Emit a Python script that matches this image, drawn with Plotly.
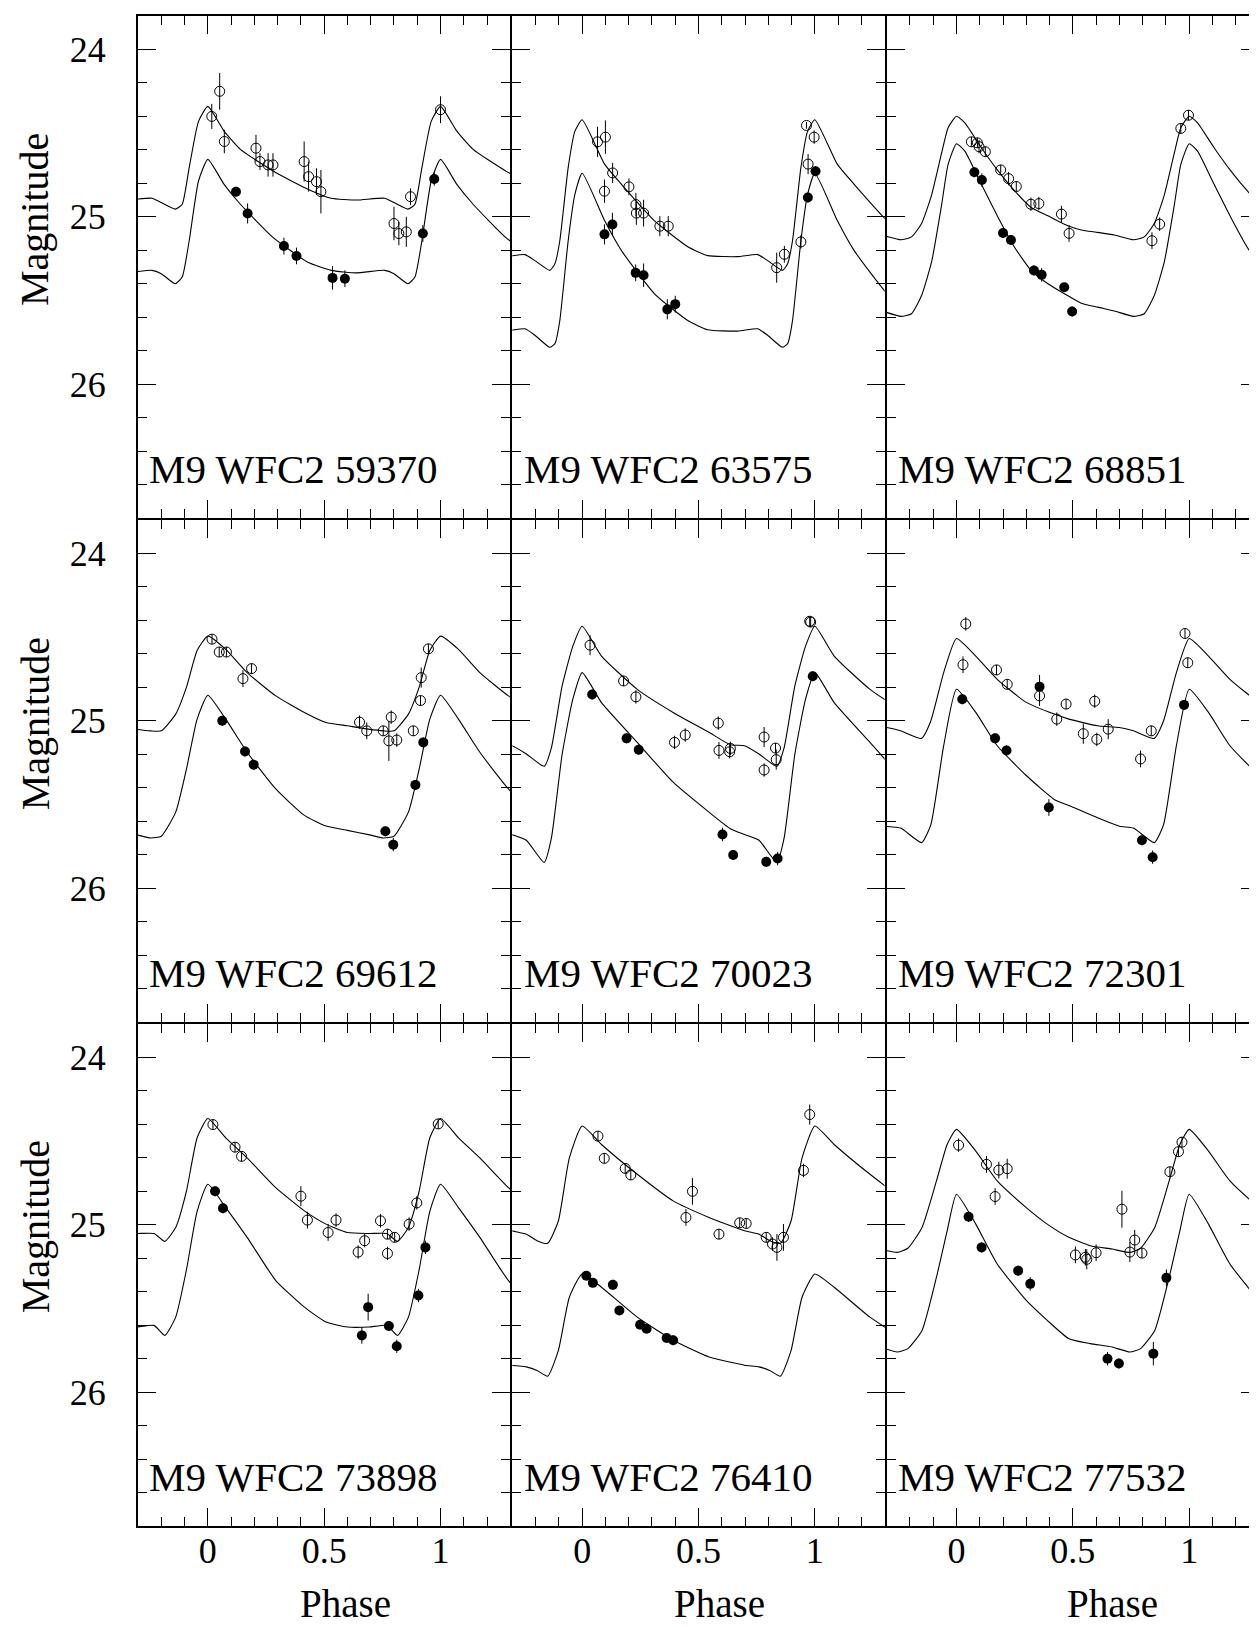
import plotly.graph_objects as go

FONT = "Liberation Serif"

names = ["M9 WFC2 59370", "M9 WFC2 63575", "M9 WFC2 68851",
         "M9 WFC2 69612", "M9 WFC2 70023", "M9 WFC2 72301",
         "M9 WFC2 73898", "M9 WFC2 76410", "M9 WFC2 77532"]

x_tickvals = [0, 0.5, 1]
x_ticktext = ["0", "0.5", "1"]
y_tickvals = [24, 25, 26]
y_ticktext = ["24", "25", "26"]

# ---------------- panel 1: 59370 ----------------
p1_open_ph = [0.017, 0.051, 0.071, 0.207, 0.224, 0.259, 0.28, 0.414, 0.433, 0.467, 0.486, 0.80, 0.821, 0.853, 0.871, 1.0]
p1_open_mag = [24.40, 24.25, 24.55, 24.59, 24.67, 24.69, 24.69, 24.67, 24.76, 24.79, 24.85, 25.04, 25.10, 25.09, 24.88, 24.36]
p1_open_err = [0.075, 0.11, 0.07, 0.08, 0.05, 0.07, 0.07, 0.12, 0.09, 0.08, 0.13, 0.10, 0.07, 0.09, 0.05, 0.08]
p1_fill_ph = [0.121, 0.171, 0.327, 0.381, 0.536, 0.589, 0.924, 0.973]
p1_fill_mag = [24.85, 24.98, 25.175, 25.234, 25.365, 25.37, 25.10, 24.774]
p1_fill_err = [0.03, 0.06, 0.05, 0.05, 0.07, 0.05, 0.05, 0.04]
p1_curve_ph = [0.0, 0.07, 0.14, 0.28, 0.43, 0.53, 0.64, 0.76, 0.80, 0.86, 0.89, 0.92, 0.96, 1.0]
p1_upper = [24.34, 24.488, 24.597, 24.726, 24.835, 24.889, 24.90, 24.889, 24.915, 24.954, 24.925, 24.706, 24.43, 24.34]
p1_lower = [24.657, 24.806, 24.925, 25.123, 25.272, 25.32, 25.335, 25.32, 25.34, 25.40, 25.36, 25.143, 24.786, 24.657]

# ---------------- panel 2: 63575 ----------------
p2_open_ph = [0.066, 0.10, 0.096, 0.131, 0.201, 0.231, 0.233, 0.264, 0.334, 0.37, 0.836, 0.869, 0.94, 0.964, 0.971, 0.997]
p2_open_mag = [24.552, 24.524, 24.847, 24.738, 24.821, 24.927, 24.978, 24.978, 25.056, 25.056, 25.304, 25.224, 25.15, 24.454, 24.685, 24.524]
p2_open_err = [0.09, 0.10, 0.07, 0.06, 0.05, 0.07, 0.07, 0.08, 0.06, 0.06, 0.09, 0.05, 0.04, 0.02, 0.06, 0.04]
p2_fill_ph = [0.096, 0.13, 0.23, 0.264, 0.366, 0.40, 0.97, 1.003]
p2_fill_mag = [25.105, 25.046, 25.335, 25.349, 25.553, 25.522, 24.885, 24.728]
p2_fill_err = [0.06, 0.07, 0.05, 0.07, 0.06, 0.05, 0.03, 0.03]
p2_curve_ph = [0.0, 0.097, 0.169, 0.311, 0.454, 0.54, 0.669, 0.754, 0.797, 0.861, 0.883, 0.904, 0.94, 0.969, 1.0]
p2_upper = [24.42, 24.687, 24.806, 25.024, 25.179, 25.232, 25.238, 25.226, 25.262, 25.32, 25.28, 25.143, 24.706, 24.488, 24.42]
p2_lower = [24.74, 25.024, 25.202, 25.46, 25.62, 25.675, 25.683, 25.669, 25.708, 25.78, 25.758, 25.62, 25.143, 24.865, 24.74]

# ---------------- panel 3: 68851 ----------------
p3_open_ph = [0.064, 0.09, 0.097, 0.124, 0.19, 0.224, 0.257, 0.32, 0.354, 0.451, 0.484, 0.84, 0.873, 0.964, 0.997]
p3_open_mag = [24.552, 24.558, 24.581, 24.611, 24.72, 24.772, 24.819, 24.925, 24.921, 24.984, 25.099, 25.143, 25.044, 24.472, 24.393]
p3_open_err = [0.03, 0.03, 0.04, 0.03, 0.03, 0.04, 0.03, 0.04, 0.04, 0.05, 0.05, 0.05, 0.04, 0.03, 0.03]
p3_fill_ph = [0.077, 0.109, 0.20, 0.234, 0.333, 0.366, 0.463, 0.497]
p3_fill_mag = [24.734, 24.78, 25.097, 25.139, 25.321, 25.347, 25.421, 25.566]
p3_fill_err = [0.03, 0.04, 0.03, 0.03, 0.03, 0.04, 0.02, 0.03]
p3_curve_ph = [0.0, 0.036, 0.107, 0.179, 0.25, 0.321, 0.393, 0.464, 0.536, 0.607, 0.679, 0.761, 0.807, 0.85, 0.893, 0.936, 0.964, 1.0]
p3_upper = [24.399, 24.438, 24.587, 24.726, 24.845, 24.944, 24.994, 25.044, 25.079, 25.093, 25.109, 25.137, 25.12, 25.04, 24.87, 24.62, 24.468, 24.399]
p3_lower = [24.563, 24.607, 24.806, 25.004, 25.183, 25.321, 25.40, 25.46, 25.516, 25.54, 25.563, 25.595, 25.579, 25.47, 25.27, 24.93, 24.687, 24.563]

# ---------------- panel 4: 69612 ----------------
p4_open_ph = [0.018, 0.049, 0.08, 0.151, 0.188, 0.652, 0.683, 0.754, 0.778, 0.788, 0.812, 0.883, 0.914, 0.917, 0.948]
p4_open_mag = [24.512, 24.589, 24.589, 24.748, 24.688, 25.008, 25.06, 25.06, 25.12, 24.978, 25.115, 25.06, 24.879, 24.742, 24.57]
p4_open_err = [0.03, 0.03, 0.03, 0.05, 0.03, 0.04, 0.05, 0.03, 0.12, 0.04, 0.04, 0.03, 0.03, 0.06, 0.03]
p4_fill_ph = [0.062, 0.16, 0.197, 0.763, 0.797, 0.892, 0.926]
p4_fill_mag = [25.0, 25.183, 25.262, 25.66, 25.74, 25.383, 25.129]
p4_fill_err = [0.03, 0.03, 0.03, 0.03, 0.04, 0.03, 0.03]
p4_curve_ph = [0.0, 0.077, 0.169, 0.292, 0.415, 0.508, 0.6, 0.69, 0.754, 0.80, 0.862, 0.908, 0.954, 1.0]
p4_upper = [24.494, 24.573, 24.712, 24.851, 24.95, 25.01, 25.03, 25.05, 25.06, 25.06, 24.96, 24.80, 24.58, 24.494]
p4_lower = [24.847, 24.99, 25.188, 25.407, 25.565, 25.629, 25.655, 25.68, 25.70, 25.69, 25.546, 25.29, 24.99, 24.847]

# ---------------- panel 5: 70023 ----------------
p5_open_ph = [0.034, 0.178, 0.231, 0.397, 0.443, 0.585, 0.588, 0.634, 0.637, 0.782, 0.782, 0.831, 0.834, 0.978, 0.982]
p5_open_mag = [24.548, 24.762, 24.857, 25.129, 25.085, 25.014, 25.177, 25.185, 25.165, 25.097, 25.294, 25.163, 25.232, 24.405, 24.41]
p5_open_err = [0.06, 0.03, 0.04, 0.04, 0.04, 0.04, 0.05, 0.04, 0.04, 0.06, 0.04, 0.03, 0.06, 0.03, 0.03]
p5_fill_ph = [0.043, 0.191, 0.243, 0.603, 0.649, 0.791, 0.84, 0.991]
p5_fill_mag = [24.843, 25.105, 25.173, 25.679, 25.802, 25.843, 25.823, 24.734]
p5_fill_err = [0.03, 0.03, 0.03, 0.04, 0.03, 0.03, 0.04, 0.03]
p5_curve_ph = [0.0, 0.083, 0.237, 0.391, 0.545, 0.637, 0.698, 0.76, 0.837, 0.868, 0.914, 0.96, 1.0]
p5_upper = [24.435, 24.613, 24.812, 24.95, 25.069, 25.143, 25.149, 25.198, 25.272, 25.16, 24.792, 24.554, 24.435]
p5_lower = [24.712, 24.891, 25.129, 25.367, 25.546, 25.645, 25.68, 25.714, 25.847, 25.70, 25.20, 24.871, 24.712]

# ---------------- panel 6: 72301 ----------------
p6_open_ph = [0.04, 0.028, 0.172, 0.218, 0.357, 0.431, 0.471, 0.545, 0.594, 0.603, 0.652, 0.791, 0.837, 0.982, 0.994]
p6_open_mag = [24.421, 24.665, 24.696, 24.782, 24.851, 24.99, 24.90, 25.077, 24.883, 25.111, 25.05, 25.228, 25.06, 24.478, 24.653]
p6_open_err = [0.04, 0.05, 0.03, 0.03, 0.06, 0.04, 0.03, 0.06, 0.04, 0.04, 0.06, 0.05, 0.03, 0.03, 0.03]
p6_fill_ph = [0.025, 0.166, 0.215, 0.357, 0.397, 0.797, 0.843, 0.978]
p6_fill_mag = [24.871, 25.105, 25.177, 24.796, 25.518, 25.714, 25.815, 24.905]
p6_fill_err = [0.03, 0.03, 0.03, 0.07, 0.05, 0.03, 0.04, 0.03]
p6_curve_ph = [0.0, 0.083, 0.175, 0.3, 0.42, 0.483, 0.606, 0.7, 0.76, 0.85, 0.89, 0.945, 1.0]
p6_upper = [24.508, 24.613, 24.752, 24.89, 24.96, 24.99, 25.03, 25.04, 25.06, 25.105, 25.0, 24.712, 24.508]
p6_lower = [24.812, 24.95, 25.149, 25.327, 25.47, 25.506, 25.58, 25.63, 25.641, 25.728, 25.62, 25.149, 24.812]

# ---------------- panel 7: 73898 ----------------
p7_open_ph = [0.022, 0.117, 0.145, 0.40, 0.428, 0.517, 0.551, 0.646, 0.674, 0.742, 0.772, 0.772, 0.803, 0.865, 0.898, 0.99]
p7_open_mag = [24.401, 24.536, 24.591, 24.829, 24.972, 25.046, 24.972, 25.163, 25.095, 24.976, 25.056, 25.171, 25.075, 24.996, 24.869, 24.397]
p7_open_err = [0.03, 0.03, 0.03, 0.06, 0.05, 0.05, 0.04, 0.04, 0.04, 0.04, 0.03, 0.04, 0.03, 0.04, 0.04, 0.03]
p7_fill_ph = [0.031, 0.065, 0.662, 0.689, 0.778, 0.812, 0.905, 0.935]
p7_fill_mag = [24.80, 24.901, 25.661, 25.492, 25.605, 25.726, 25.423, 25.135]
p7_fill_err = [0.03, 0.03, 0.05, 0.08, 0.03, 0.04, 0.04, 0.04]
p7_curve_ph = [0.0, 0.077, 0.169, 0.292, 0.415, 0.508, 0.6, 0.692, 0.769, 0.815, 0.862, 0.908, 0.954, 1.0]
p7_upper = [24.365, 24.48, 24.60, 24.778, 24.917, 24.996, 25.046, 25.052, 25.052, 25.099, 25.016, 24.80, 24.48, 24.365]
p7_lower = [24.758, 24.897, 25.075, 25.333, 25.492, 25.581, 25.611, 25.611, 25.601, 25.661, 25.552, 25.27, 24.92, 24.758]

# ---------------- panel 8: 76410 ----------------
p8_open_ph = [0.068, 0.095, 0.185, 0.209, 0.446, 0.474, 0.588, 0.677, 0.705, 0.791, 0.818, 0.837, 0.865, 0.951, 0.978]
p8_open_mag = [24.47, 24.603, 24.663, 24.702, 24.956, 24.80, 25.056, 24.988, 24.992, 25.075, 25.115, 25.135, 25.075, 24.675, 24.341]
p8_open_err = [0.03, 0.03, 0.03, 0.03, 0.05, 0.08, 0.03, 0.03, 0.03, 0.03, 0.04, 0.08, 0.08, 0.04, 0.06]
p8_fill_ph = [0.018, 0.046, 0.132, 0.16, 0.249, 0.277, 0.363, 0.391]
p8_fill_mag = [25.304, 25.347, 25.359, 25.512, 25.597, 25.621, 25.677, 25.69]
p8_fill_err = [0.02, 0.02, 0.03, 0.02, 0.02, 0.02, 0.02, 0.03]
p8_curve_ph = [0.0, 0.083, 0.237, 0.391, 0.545, 0.698, 0.76, 0.806, 0.852, 0.898, 0.945, 1.0]
p8_upper = [24.41, 24.52, 24.698, 24.857, 24.956, 25.036, 25.056, 25.095, 25.111, 24.976, 24.60, 24.41]
p8_lower = [25.294, 25.373, 25.552, 25.69, 25.79, 25.839, 25.849, 25.87, 25.905, 25.75, 25.433, 25.294]

# ---------------- panel 9: 77532 ----------------
p9_open_ph = [0.009, 0.129, 0.166, 0.182, 0.218, 0.511, 0.554, 0.56, 0.60, 0.711, 0.745, 0.766, 0.797, 0.917, 0.954, 0.969]
p9_open_mag = [24.524, 24.639, 24.831, 24.673, 24.665, 25.18, 25.194, 25.206, 25.167, 24.907, 25.163, 25.091, 25.169, 24.683, 24.563, 24.506]
p9_open_err = [0.04, 0.05, 0.05, 0.05, 0.06, 0.05, 0.05, 0.06, 0.05, 0.11, 0.06, 0.06, 0.03, 0.03, 0.03, 0.03]
p9_fill_ph = [0.052, 0.108, 0.265, 0.317, 0.649, 0.698, 0.846, 0.902]
p9_fill_mag = [24.952, 25.135, 25.274, 25.353, 25.80, 25.829, 25.77, 25.317]
p9_fill_err = [0.03, 0.03, 0.03, 0.04, 0.04, 0.03, 0.07, 0.05]
p9_curve_ph = [0.0, 0.083, 0.175, 0.3, 0.39, 0.483, 0.575, 0.668, 0.745, 0.791, 0.852, 0.914, 0.96, 1.0]
p9_upper = [24.43, 24.56, 24.738, 24.897, 24.996, 25.075, 25.125, 25.145, 25.165, 25.14, 25.016, 24.738, 24.52, 24.43]
p9_lower = [24.817, 24.996, 25.234, 25.452, 25.571, 25.681, 25.71, 25.73, 25.76, 25.74, 25.631, 25.313, 25.036, 24.817]

panels = [
    (p1_open_ph, p1_open_mag, p1_open_err, p1_fill_ph, p1_fill_mag, p1_fill_err, p1_curve_ph, p1_upper, p1_lower),
    (p2_open_ph, p2_open_mag, p2_open_err, p2_fill_ph, p2_fill_mag, p2_fill_err, p2_curve_ph, p2_upper, p2_lower),
    (p3_open_ph, p3_open_mag, p3_open_err, p3_fill_ph, p3_fill_mag, p3_fill_err, p3_curve_ph, p3_upper, p3_lower),
    (p4_open_ph, p4_open_mag, p4_open_err, p4_fill_ph, p4_fill_mag, p4_fill_err, p4_curve_ph, p4_upper, p4_lower),
    (p5_open_ph, p5_open_mag, p5_open_err, p5_fill_ph, p5_fill_mag, p5_fill_err, p5_curve_ph, p5_upper, p5_lower),
    (p6_open_ph, p6_open_mag, p6_open_err, p6_fill_ph, p6_fill_mag, p6_fill_err, p6_curve_ph, p6_upper, p6_lower),
    (p7_open_ph, p7_open_mag, p7_open_err, p7_fill_ph, p7_fill_mag, p7_fill_err, p7_curve_ph, p7_upper, p7_lower),
    (p8_open_ph, p8_open_mag, p8_open_err, p8_fill_ph, p8_fill_mag, p8_fill_err, p8_curve_ph, p8_upper, p8_lower),
    (p9_open_ph, p9_open_mag, p9_open_err, p9_fill_ph, p9_fill_mag, p9_fill_err, p9_curve_ph, p9_upper, p9_lower),
]


def tile(ph, mag):
    """Phase-fold: repeat one cycle at phase-1, phase, phase+1."""
    xs, ys = [], []
    for shift in (-1, 0, 1):
        xs += [p + shift for p in ph[:-1]]
        ys += list(mag[:-1])
    xs.append(ph[-1] + 1)
    ys.append(mag[-1])
    return xs, ys


# integer pixel layout so neighbouring frame lines coincide
W, H = 1257, 1627
LW = 2             # frame line width
GAP = 2            # gap between panel domains = line width
CW, RH = 373, 502  # panel width / height in px
PW, PH = 3 * CW + 2 * GAP, 3 * RH + 2 * GAP
ML, MT = 130, 8
MR, MB = W - ML - PW, H - MT - PH


def xdom(c):
    a = c * (CW + GAP)
    return [a / PW, (a + CW) / PW]


def ydom(r):
    top = r * (RH + GAP)
    return [1 - (top + RH) / PH, 1 - top / PH]


fig = go.Figure()
layout_axes = {}
annotations = []

for i, (oph, omag, oerr, fph, fmag, ferr, cph, cup, clo) in enumerate(panels):
    r, c = divmod(i, 3)
    n = "" if i == 0 else str(i + 1)
    xa, ya = "x" + n, "y" + n
    for curve in (cup, clo):
        cx, cy = tile(cph, curve)
        fig.add_trace(go.Scatter(x=cx, y=cy, mode="lines", xaxis=xa, yaxis=ya,
                                 line=dict(color="black", width=1.1, shape="spline", smoothing=0.5),
                                 hoverinfo="skip"))
    fig.add_trace(go.Scatter(x=oph, y=omag, mode="markers", xaxis=xa, yaxis=ya,
                             marker=dict(symbol="circle-open", size=10, color="black",
                                         line=dict(width=1, color="black")),
                             error_y=dict(type="data", array=oerr, color="black",
                                          thickness=1, width=0)))
    fig.add_trace(go.Scatter(x=fph, y=fmag, mode="markers", xaxis=xa, yaxis=ya,
                             marker=dict(symbol="circle", size=10, color="black"),
                             error_y=dict(type="data", array=ferr, color="black",
                                          thickness=1, width=0)))

    layout_axes["xaxis" + n] = dict(
        domain=xdom(c), anchor=ya, range=[-0.3, 1.3],
        showline=True, linecolor="black", linewidth=LW, mirror="allticks",
        ticks="inside", ticklen=18, tickwidth=1, tickcolor="black",
        tickmode="array", tickvals=x_tickvals, ticktext=x_ticktext,
        showticklabels=(r == 2), ticklabelstandoff=-8,
        minor=dict(ticks="inside", ticklen=9, tickwidth=1, tickcolor="black",
                   tickmode="linear", tick0=0, dtick=0.1, showgrid=False),
        showgrid=False, zeroline=False,
        tickfont=dict(family=FONT, size=36, color="black"))
    layout_axes["yaxis" + n] = dict(
        domain=ydom(r), anchor=xa, range=[26.8, 23.8],
        showline=True, linecolor="black", linewidth=LW, mirror="allticks",
        ticks="inside", ticklen=18, tickwidth=1, tickcolor="black",
        tickmode="array", tickvals=y_tickvals, ticktext=y_ticktext,
        showticklabels=(c == 0), ticklabelstandoff=23,
        minor=dict(ticks="inside", ticklen=9, tickwidth=1, tickcolor="black",
                   tickmode="linear", tick0=24, dtick=0.2, showgrid=False),
        showgrid=False, zeroline=False,
        tickfont=dict(family=FONT, size=36, color="black"))

    annotations.append(dict(text=names[i], xref=xa + " domain", yref=ya + " domain",
                            x=0.025, y=0.097, xanchor="left", yanchor="middle",
                            showarrow=False,
                            font=dict(family=FONT, size=41, color="black")))

# axis titles (paper coordinates)
for r, yc in enumerate([0.865, 0.531, 0.198]):
    annotations.append(dict(text="Magnitude", xref="paper", yref="paper",
                            x=(27 - ML) / PW, y=yc,
                            xanchor="center", yanchor="middle", textangle=-90,
                            showarrow=False, font=dict(family=FONT, size=40, color="black")))
for c, xc in enumerate([0.185, 0.519, 0.869]):
    annotations.append(dict(text="Phase", xref="paper", yref="paper", x=xc, y=-0.0516,
                            xanchor="center", yanchor="middle",
                            showarrow=False, font=dict(family=FONT, size=39, color="black")))

fig.update_layout(
    width=W, height=H,
    margin=dict(l=ML, r=MR, t=MT, b=MB),
    paper_bgcolor="white", plot_bgcolor="white",
    showlegend=False,
    annotations=annotations,
    **layout_axes)

fig.write_html("out.html")
